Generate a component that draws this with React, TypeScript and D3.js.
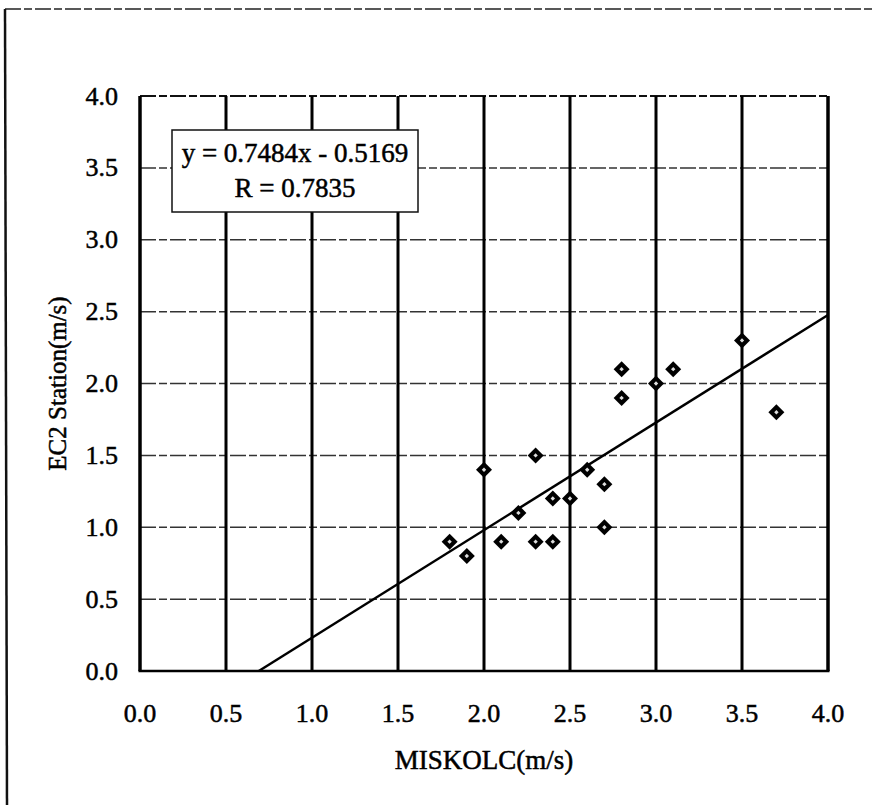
import React from 'react';
import * as d3 from 'd3';

// MISKOLC vs EC2 station wind speed (m/s)
const miskolc = [1.8, 1.9, 2.0, 2.1, 2.2, 2.3, 2.3, 2.4, 2.4, 2.5, 2.6, 2.7, 2.7, 2.8, 2.8, 3.0, 3.1, 3.5, 3.7];
const ec2 = [0.9, 0.8, 1.4, 0.9, 1.1, 1.5, 0.9, 1.2, 0.9, 1.2, 1.4, 1.3, 1.0, 2.1, 1.9, 2.0, 2.1, 2.3, 1.8];
const ticks = [0, 0.5, 1, 1.5, 2, 2.5, 3, 3.5, 4];
const slope = 0.7484;
const intercept = -0.5169;
const eqLabel = 'y = 0.7484x - 0.5169';
const rLabel = 'R = 0.7835';

const W = 872;
const H = 805;
const font = '"Liberation Serif", "Times New Roman", serif';
// scanned text looks heavier than plain regular weight
const ink = { fontFamily: font, fill: '#000', stroke: '#000', strokeWidth: 0.5 };

export default function App() {
  const x = d3.scaleLinear().domain([0, 4]).range([140, 828]);
  const y = d3.scaleLinear().domain([0, 4]).range([671, 96]);

  // trend line from where it crosses y=0 up to x=4
  const x0 = -intercept / slope;
  const fit = d3.line<number>()
    .x(d => x(d))
    .y(d => y(slope * d + intercept));

  const diamond = (cx: number, cy: number, r: number) =>
    `M${cx},${cy - r}L${cx + r},${cy}L${cx},${cy + r}L${cx - r},${cy}Z`;

  return (
    <svg width={W} height={H} style={{ position: 'absolute', left: 0, top: 0, background: '#fff' }}>
      {/* outer frame */}
      <line x1={5} x2={W} y1={9} y2={9} stroke="#222" strokeWidth={1.5} strokeDasharray="16 3 8 3" />
      <line x1={5} x2={7} y1={9} y2={H} stroke="#111" strokeWidth={2.5} />

      {/* horizontal dashed gridlines */}
      {ticks.slice(1, -1).map(t => (
        <line key={'h' + t} x1={x(0)} x2={x(4)} y1={y(t)} y2={y(t)}
          stroke="#333" strokeWidth={1.5} strokeDasharray="16 3 8 3" />
      ))}
      <line x1={x(0)} x2={x(4)} y1={y(4)} y2={y(4)} stroke="#111" strokeWidth={2} strokeDasharray="16 3 8 3" />

      {/* vertical solid gridlines */}
      {ticks.map(t => (
        <line key={'v' + t} x1={x(t)} x2={x(t)} y1={y(4)} y2={y(0)}
          stroke="#000" strokeWidth={t === 0 || t === 4 ? 3.5 : 3} />
      ))}
      <line x1={x(0) - 1.5} x2={x(4) + 1.5} y1={y(0)} y2={y(0)} stroke="#000" strokeWidth={2.5} />

      {/* regression line */}
      <path d={fit([x0, 4]) || ''} fill="none" stroke="#000" strokeWidth={2.5} />

      {/* points: black diamonds with a small light centre */}
      {miskolc.map((v, i) => (
        <g key={'p' + i}>
          <path d={diamond(x(v), y(ec2[i]), 8)} fill="#000" />
          <path d={diamond(x(v), y(ec2[i]), 2.2)} fill="#ddd" />
        </g>
      ))}

      {/* equation box */}
      <rect x={172} y={130} width={246} height={82} fill="#fff" stroke="#111" strokeWidth={1.5} />
      <text x={295} y={153} textAnchor="middle" dominantBaseline="central" fontSize={27} {...ink}>{eqLabel}</text>
      <text x={295} y={188} textAnchor="middle" dominantBaseline="central" fontSize={27} {...ink}>{rLabel}</text>

      {/* y tick labels */}
      {ticks.map(t => (
        <text key={'yl' + t} x={118} y={y(t)} textAnchor="end" dominantBaseline="central"
          fontSize={26} {...ink}>{t.toFixed(1)}</text>
      ))}
      {/* x tick labels */}
      {ticks.map(t => (
        <text key={'xl' + t} x={x(t)} y={713} textAnchor="middle" dominantBaseline="central"
          fontSize={26} {...ink}>{t.toFixed(1)}</text>
      ))}

      {/* axis titles */}
      <text x={484} y={760} textAnchor="middle" dominantBaseline="central" fontSize={27} {...ink}>MISKOLC(m/s)</text>
      <text transform={`translate(57,${(y(0) + y(4)) / 2}) rotate(-90)`} textAnchor="middle"
        dominantBaseline="central" fontSize={25} {...ink}>EC2 Station(m/s)</text>
    </svg>
  );
}
